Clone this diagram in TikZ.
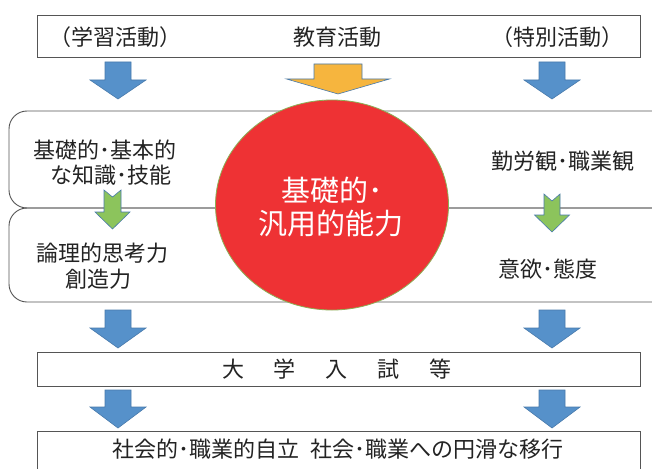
\documentclass[tikz,border=0pt]{standalone}
\usepackage{fontspec}
\setmainfont{Noto Sans CJK JP}
\definecolor{arrblue}{RGB}{86,145,202}
\definecolor{arrblueline}{RGB}{72,122,172}
\definecolor{arrorange}{RGB}{246,181,62}
\definecolor{arrgreen}{RGB}{140,196,92}
\definecolor{circred}{RGB}{238,50,52}
\definecolor{circline}{RGB}{140,175,85}
\definecolor{boxline}{RGB}{85,85,85}
\definecolor{txt}{RGB}{35,35,35}
\tikzset{
  pics/darrow/.style n args={5}{code={
    \path[pic actions] (-#1,0) -- (0,#5) -- (#1,0) -- (#1,#3) -- (#2,#3) -- (0,#4) -- (-#2,#3) -- (-#1,#3) -- cycle;
  }},
  bluearr/.style={fill=arrblue, draw=arrblueline, line width=0.6pt},
  orangearr/.style={fill=arrorange, draw=arrblueline, line width=0.6pt},
  greenarr/.style={fill=arrgreen, draw=arrblueline, line width=0.6pt},
  sqbox/.style={draw=boxline, line width=0.9pt, fill=white},
  rbox/.style={draw=boxline, line width=0.9pt, rounded corners=18pt},
  lbl/.style={text=txt, font=\fontsize{22}{26}\selectfont, inner sep=0pt},
  bigl/.style={text=white, font=\fontsize{29}{33}\selectfont, inner sep=0pt},
}
\begin{document}
\begin{tikzpicture}[x=1pt,y=-1pt]
\useasboundingbox (0,0) rectangle (652,468);
\fill[white] (0,0) rectangle (652,468);

% top box
\draw[sqbox] (37,15) rectangle (640,57);
\node[lbl] (t1) at (115,37) {（学習活動）};
\node[lbl] (t2) at (337,37) {教育活動};
\node[lbl] (t3) at (557,37) {（特別活動）};

% top arrows
\pic[bluearr] at (118,62) {darrow={13}{28}{18}{37}{0}};
\pic[bluearr] at (552,62) {darrow={13}{28}{18}{37}{0}};
\pic[orangearr] at (338,64) {darrow={24}{51.5}{15}{30}{0}};

% rounded boxes
\draw[rbox] (9,111) rectangle (690,208);
\draw[rbox] (9,208) rectangle (690,302);

% green arrows (notched)
\pic[greenarr] at (112.5,190) {darrow={8.5}{17.5}{22}{39}{7}};
\pic[greenarr] at (552,194) {darrow={8}{17.5}{21}{38}{7}};

% circle
\draw[fill=circred, draw=circline, line width=0.8pt] (332,205) ellipse [x radius=116.5, y radius=105];
\node[bigl] (c1) at (332,190) {基礎的･};
\node[bigl] (c2) at (331,223) {汎用的能力};

% side labels
\node[lbl] (l1) at (104.5,150) {基礎的･基本的};
\node[lbl] (l2) at (110.5,175) {な知識･技能};
\node[lbl] (l3) at (102.5,253) {論理的思考力};
\node[lbl] (l4) at (98.5,279) {創造力};
\node[lbl] (r1) at (563,161) {勤労観･職業観};
\node[lbl] (r2) at (547.5,269) {意欲･態度};

% middle arrows
\pic[bluearr] at (118,310) {darrow={13}{28}{18}{38}{0}};
\pic[bluearr] at (552,310) {darrow={13}{28}{18}{38}{0}};

% exam box
\draw[sqbox] (37,352) rectangle (640,386);
\node[lbl] (ex) at (337,369) {大\kern30pt学\kern30pt入\kern30pt試\kern30pt等};

% lower arrows
\pic[bluearr] at (118,390) {darrow={13}{28}{17}{38}{0}};
\pic[bluearr] at (552,390) {darrow={13}{28}{17}{38}{0}};

% bottom box
\draw[sqbox] (37,431) rectangle (640,490);
\node[lbl] (bt) at (338,449) {社会的･職業的自立\kern12pt 社会･職業への円滑な移行};
\end{tikzpicture}
\end{document}
